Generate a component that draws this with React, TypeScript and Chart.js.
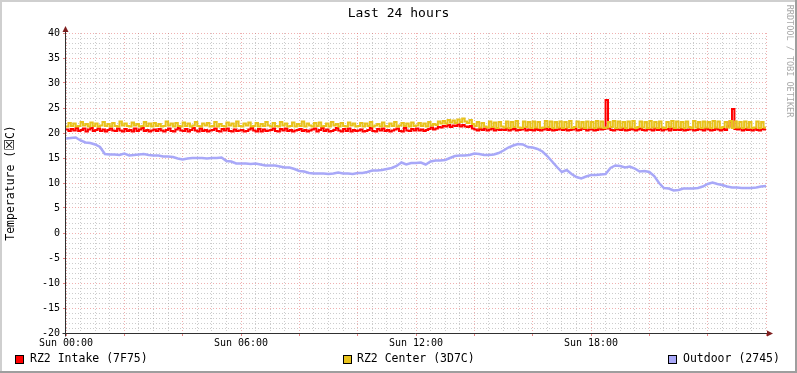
import React, { useEffect, useRef } from "react";
import { Chart, registerables } from "chart.js";

Chart.register(...registerables);

const TITLE = "Last 24 hours";
const Y_TITLE_PARTS = ["Temperature (", "☒", "C)"];
const WATERMARK = "RRDTOOL / TOBI OETIKER";
const X_TICK_LABELS = ["Sun 00:00", "Sun 06:00", "Sun 12:00", "Sun 18:00"];
const X_LABEL_EVERY_MIN = 360;
const X_MAJOR_EVERY_MIN = 120;
const X_MINOR_EVERY_MIN = 30;
const X_SPAN_MIN = 1440;
const Y_MIN = -20;
const Y_MAX = 40;
const Y_LABEL_EVERY = 5;
const SERIES_NAMES = ["RZ2 Intake (7F75)", "RZ2 Center (3D7C)", "Outdoor (2745)"];
const SERIES_COLORS = ["#FF0000", "#E8C21C", "#A8A8F8"];
const INTAKE_STEP_MIN = 5;
const CENTER_STEP_MIN = 5;
const OUTDOOR_STEP_MIN = 10;

// RZ2 Intake, one value every 5 minutes (12 per hour)
const INTAKE = [
  20.7, 20.4, 20.8, 20.5, 21.0, 20.4, 20.6, 20.9, 20.3, 20.7, 21.0, 20.4,
  20.6, 20.9, 20.4, 20.7, 20.3, 20.6, 20.9, 20.5, 20.4, 20.9, 20.5, 20.3,
  20.8, 20.4, 20.6, 20.3, 20.9, 20.4, 20.7, 21.0, 20.4, 20.6, 20.3, 20.5,
  20.7, 20.4, 20.8, 20.5, 20.3, 20.6, 20.9, 20.4, 20.3, 20.7, 21.0, 20.5,
  20.4, 20.8, 20.3, 20.6, 21.0, 20.5, 20.3, 20.9, 20.4, 20.6, 20.3, 20.5,
  20.6, 20.9, 20.4, 20.3, 20.8, 20.5, 20.9, 20.4, 20.3, 20.7, 20.4, 20.5,
  20.6, 20.3, 20.4, 20.7, 21.0, 20.5, 20.3, 20.8, 20.3, 20.7, 20.4, 20.5,
  20.6, 20.9, 20.4, 20.3, 20.8, 20.5, 20.9, 20.4, 20.6, 20.3, 20.5, 20.6,
  20.8, 20.4, 20.6, 20.3, 20.5, 20.7, 20.9, 20.3, 20.6, 21.0, 20.4, 20.7,
  20.3, 20.4, 20.6, 21.0, 20.5, 20.3, 20.8, 20.4, 20.9, 20.3, 20.6, 20.4,
  20.5, 20.7, 20.3, 20.4, 20.6, 21.0, 20.4, 20.3, 20.8, 20.5, 20.9, 20.4,
  20.6, 20.3, 20.5, 20.7, 20.9, 20.4, 20.3, 21.0, 20.5, 20.4, 20.8, 20.5,
  20.9, 20.5, 20.7, 20.4, 20.6, 20.8, 21.1, 20.7, 20.9, 21.2, 21.1, 21.4,
  21.3, 21.6, 21.2, 21.5, 21.4, 21.7, 21.3, 21.6, 21.3, 21.2, 21.4, 20.9,
  20.7, 20.5, 20.8, 20.6, 20.9, 20.5, 20.7, 20.9, 20.5, 20.8, 20.6, 20.7,
  20.6, 20.9, 20.5, 20.7, 20.8, 20.5, 20.6, 20.7, 20.9, 20.5, 20.7, 20.6,
  20.5, 20.8, 20.6, 20.5, 20.7, 20.9, 20.6, 20.8, 20.5, 20.6, 20.7, 20.9,
  20.6, 20.8, 20.5, 20.6, 20.7, 20.9, 20.5, 20.6, 20.9, 20.8, 20.5, 20.7,
  20.7, 20.5, 20.6, 20.9, 20.7, 20.8, 26.6, 20.9, 20.6, 20.5, 20.8, 20.7,
  20.6, 20.9, 20.5, 20.6, 20.8, 20.7, 20.5, 20.7, 20.9, 20.6, 20.5, 20.8,
  20.7, 20.5, 20.9, 20.6, 20.8, 20.5, 20.7, 20.8, 20.5, 20.9, 20.6, 20.7,
  20.6, 20.8, 20.5, 20.6, 20.7, 20.9, 20.5, 20.6, 20.8, 20.7, 20.5, 20.9,
  20.7, 20.5, 20.6, 20.9, 20.7, 20.5, 20.8, 20.6, 21.3, 22.3, 24.8, 20.8,
  20.7, 20.9, 20.5, 20.8, 20.6, 20.7, 20.5, 20.9, 20.6, 20.5, 20.8, 20.7,
  20.8,
];

// RZ2 Center, one value every 5 minutes (12 per hour)
const CENTER = [
  21.3, 22.0, 21.4, 21.9, 21.3, 21.4, 22.2, 21.5, 21.8, 21.3, 22.1, 21.4,
  21.9, 21.3, 21.5, 22.2, 21.4, 21.8, 21.3, 22.0, 21.4, 21.3, 22.3, 21.5,
  21.9, 21.4, 21.3, 22.1, 21.5, 21.8, 21.3, 21.4, 22.2, 21.4, 21.9, 21.3,
  22.0, 21.4, 21.8, 21.3, 21.4, 22.3, 21.5, 21.9, 21.3, 22.0, 21.4, 21.3,
  22.1, 21.4, 21.9, 21.3, 21.5, 22.2, 21.4, 21.3, 21.9, 21.5, 22.0, 21.3,
  21.4, 22.2, 21.3, 21.8, 21.4, 21.3, 22.1, 21.5, 21.9, 21.3, 22.3, 21.4,
  21.3, 21.9, 21.5, 22.1, 21.3, 21.4, 22.0, 21.3, 21.8, 21.4, 22.2, 21.5,
  21.3, 22.0, 21.4, 21.3, 22.2, 21.5, 21.9, 21.3, 21.4, 22.1, 21.3, 21.8,
  21.4, 22.3, 21.3, 21.9, 21.5, 21.3, 22.0, 21.4, 22.1, 21.3, 21.4, 21.9,
  21.3, 22.2, 21.5, 21.8, 21.3, 22.0, 21.4, 21.3, 22.1, 21.5, 21.9, 21.3,
  21.4, 22.0, 21.3, 21.9, 21.4, 22.2, 21.3, 21.5, 21.8, 21.3, 22.1, 21.4,
  21.3, 21.9, 21.4, 22.2, 21.3, 21.5, 22.0, 21.4, 21.9, 21.3, 22.1, 21.4,
  21.5, 22.0, 21.4, 21.9, 21.3, 22.2, 21.5, 21.8, 21.6, 22.3, 21.9, 22.4,
  21.9, 22.6, 22.1, 22.5, 22.0, 22.7, 22.2, 22.9, 22.3, 22.0, 22.6, 21.8,
  21.4, 22.2, 21.1, 22.0, 21.3, 21.1, 22.3, 21.2, 22.1, 21.0, 22.2, 21.3,
  21.1, 22.3, 21.0, 22.2, 21.2, 22.4, 21.1, 21.0, 22.3, 21.2, 22.2, 21.0,
  22.3, 21.1, 22.2, 21.0, 21.1, 22.4, 21.2, 22.3, 21.0, 22.2, 21.1, 22.3,
  21.0, 22.2, 21.1, 22.4, 21.0, 21.2, 22.3, 21.1, 22.2, 21.0, 22.3, 21.1,
  22.2, 21.0, 22.4, 21.1, 22.3, 21.0, 21.1, 22.2, 21.2, 22.4, 21.0, 22.3,
  21.1, 22.2, 21.0, 22.3, 21.1, 22.4, 21.0, 21.2, 22.3, 21.1, 22.2, 21.0,
  22.4, 21.1, 22.2, 21.0, 22.3, 21.1, 21.0, 22.2, 21.2, 22.4, 21.0, 22.3,
  21.1, 22.2, 21.0, 22.3, 21.2, 21.0, 22.4, 21.1, 22.2, 21.0, 22.3, 21.1,
  22.2, 21.0, 22.4, 21.1, 22.3, 21.0, 21.2, 22.2, 21.1, 22.4, 21.0, 22.3,
  21.1, 22.2, 21.0, 22.3, 21.1, 22.2, 21.0, 21.1, 22.3, 21.0, 22.2, 21.1,
  21.2,
];

// Outdoor, one value every 10 minutes
const OUTDOOR = [
  18.9, 19.0, 19.1, 18.5, 18.1, 18.0, 17.7, 17.2, 15.8, 15.7,
  15.7, 15.6, 15.9, 15.5, 15.6, 15.7, 15.8, 15.6, 15.5, 15.5,
  15.3, 15.3, 15.2, 14.9, 14.7, 14.9, 15.0, 15.0, 15.0, 14.9,
  15.0, 15.0, 15.1, 14.4, 14.3, 13.9, 13.9, 13.9, 13.8, 13.9,
  13.7, 13.5, 13.5, 13.5, 13.3, 13.1, 13.1, 12.8, 12.4, 12.3,
  12.0, 11.9, 11.9, 11.9, 11.8, 11.9, 12.1, 11.9, 11.9, 11.8,
  12.0, 12.0, 12.2, 12.5, 12.5, 12.6, 12.8, 13.0, 13.4, 14.1,
  13.7, 14.0, 14.0, 14.1, 13.7, 14.3, 14.5, 14.5, 14.6, 15.0,
  15.4, 15.5, 15.5, 15.6, 15.9, 15.8, 15.6, 15.6, 15.7, 16.0,
  16.5, 17.1, 17.5, 17.8, 17.7, 17.2, 17.1, 16.8, 16.3, 15.4,
  14.3, 13.2, 12.2, 12.6, 11.8, 11.2, 10.9, 11.3, 11.6, 11.6,
  11.7, 11.8, 13.0, 13.5, 13.4, 13.1, 13.3, 12.9, 12.3, 12.4,
  12.2, 11.4, 10.0, 9.0, 8.9, 8.5, 8.6, 8.9, 8.9, 8.9,
  9.0, 9.3, 9.8, 10.1, 9.8, 9.6, 9.3, 9.1, 9.1, 9.0,
  9.0, 9.0, 9.1, 9.3, 9.4,
];

const FONT = "'DejaVu Sans Mono', 'DejaVu Sans', monospace";
const SYMBOL_FONT = "'DejaVu Sans', 'Noto Sans', sans-serif";
const W = 797;
const H = 373;

const MINOR_GRID = "rgba(143,143,143,0.45)";
const MAJOR_GRID = "rgba(222,79,79,0.45)";
const MAJOR_TICK = "rgba(222,79,79,0.7)";
const AXIS_COLOR = "#303030";
const ARROW_COLOR = "#7F1F1F";

function toPoints(values: number[], stepMin: number) {
  return values.map((y, i) => ({ x: i * stepMin, y }));
}

const decorPlugin = {
  id: "rrdDecor",
  beforeDraw(chart: any) {
    const ctx = chart.ctx as CanvasRenderingContext2D;
    ctx.save();
    ctx.fillStyle = "#FFFFFF";
    ctx.fillRect(0, 0, W, H);
    ctx.fillStyle = "#CFCFCF";
    ctx.fillRect(0, 0, W, 2);
    ctx.fillRect(0, 0, 2, H);
    ctx.fillStyle = "#9E9E9E";
    ctx.fillRect(W - 2, 0, 2, H);
    ctx.fillRect(0, H - 2, W, 2);
    ctx.restore();
  },
  afterDatasetsDraw(chart: any) {
    const ctx = chart.ctx as CanvasRenderingContext2D;
    const a = chart.chartArea;
    const x0 = Math.round(a.left) - 0.5;
    const yb = Math.round(a.bottom) + 0.5;
    ctx.save();
    ctx.strokeStyle = AXIS_COLOR;
    ctx.lineWidth = 1;
    ctx.beginPath();
    ctx.moveTo(x0 - 3, yb);
    ctx.lineTo(a.right + 2, yb);
    ctx.moveTo(x0, yb + 3);
    ctx.lineTo(x0, a.top - 2);
    ctx.stroke();
    ctx.fillStyle = ARROW_COLOR;
    ctx.beginPath();
    ctx.moveTo(a.right + 1, yb - 3);
    ctx.lineTo(a.right + 7, yb);
    ctx.lineTo(a.right + 1, yb + 3);
    ctx.closePath();
    ctx.fill();
    ctx.beginPath();
    ctx.moveTo(x0 - 3, a.top - 1);
    ctx.lineTo(x0, a.top - 7);
    ctx.lineTo(x0 + 3, a.top - 1);
    ctx.closePath();
    ctx.fill();
    ctx.restore();
  },
  afterDraw(chart: any) {
    const ctx = chart.ctx as CanvasRenderingContext2D;
    const a = chart.chartArea;
    ctx.save();
    ctx.fillStyle = "#000000";
    ctx.font = `13px ${FONT}`;
    ctx.textAlign = "center";
    ctx.textBaseline = "middle";
    ctx.fillText(TITLE, W / 2, 14);

    // rotated y-axis title, drawn in parts so the symbol can use another font
    ctx.save();
    ctx.translate(11, (a.top + a.bottom) / 2);
    ctx.rotate(-Math.PI / 2);
    ctx.textAlign = "left";
    const fonts = [`11.5px ${FONT}`, `13px ${SYMBOL_FONT}`, `11.5px ${FONT}`];
    const widths = Y_TITLE_PARTS.map((p, i) => {
      ctx.font = fonts[i];
      return ctx.measureText(p).width;
    });
    const total = widths.reduce((s, w) => s + w, 0);
    let cx = -total / 2;
    Y_TITLE_PARTS.forEach((p, i) => {
      ctx.font = fonts[i];
      ctx.fillText(p, cx, 0);
      cx += widths[i];
    });
    ctx.restore();

    ctx.save();
    ctx.translate(789, 61);
    ctx.rotate(Math.PI / 2);
    ctx.font = `8.5px ${FONT}`;
    ctx.fillStyle = "#A8A8A8";
    ctx.textAlign = "center";
    ctx.fillText(WATERMARK, 0, 0);
    ctx.restore();

    const items = [
      { sx: 15, tx: 30 },
      { sx: 343, tx: 357 },
      { sx: 668, tx: 683 },
    ];
    ctx.font = `11.5px ${FONT}`;
    ctx.textAlign = "left";
    ctx.textBaseline = "middle";
    items.forEach((it, i) => {
      ctx.fillStyle = SERIES_COLORS[i];
      ctx.fillRect(it.sx, 355, 8, 8);
      ctx.strokeStyle = "#000000";
      ctx.lineWidth = 1;
      ctx.strokeRect(it.sx + 0.5, 355.5, 8, 8);
      ctx.fillStyle = "#000000";
      ctx.fillText(SERIES_NAMES[i], it.tx, 359.5);
    });
    ctx.restore();
  },
};

export default function App() {
  const canvasRef = useRef<HTMLCanvasElement | null>(null);

  useEffect(() => {
    const canvas = canvasRef.current;
    if (!canvas) return;
    const chart = new Chart(canvas, {
      type: "line",
      data: {
        datasets: [
          {
            label: SERIES_NAMES[0],
            data: toPoints(INTAKE, INTAKE_STEP_MIN),
            borderColor: SERIES_COLORS[0],
            backgroundColor: SERIES_COLORS[0],
            borderWidth: 2,
            pointRadius: 0,
            stepped: true,
            order: 3,
          },
          {
            label: SERIES_NAMES[1],
            data: toPoints(CENTER, CENTER_STEP_MIN),
            borderColor: SERIES_COLORS[1],
            backgroundColor: SERIES_COLORS[1],
            borderWidth: 2,
            pointRadius: 0,
            stepped: true,
            order: 2,
          },
          {
            label: SERIES_NAMES[2],
            data: toPoints(OUTDOOR, OUTDOOR_STEP_MIN),
            borderColor: SERIES_COLORS[2],
            backgroundColor: SERIES_COLORS[2],
            borderWidth: 2.5,
            pointRadius: 0,
            tension: 0,
            order: 1,
          },
        ],
      },
      options: {
        animation: false,
        responsive: false,
        maintainAspectRatio: false,
        events: [],
        layout: { padding: { left: 0, top: 33, right: 31, bottom: 0 } },
        plugins: {
          legend: { display: false },
          title: { display: false },
          tooltip: { enabled: false },
        },
        scales: {
          x: {
            type: "linear",
            min: 0,
            max: X_SPAN_MIN,
            afterFit: (s: any) => {
              s.height = 40;
            },
            ticks: {
              stepSize: X_MINOR_EVERY_MIN,
              autoSkip: false,
              maxTicksLimit: 1000,
              maxRotation: 0,
              minRotation: 0,
              padding: 1,
              color: "#000000",
              font: { family: FONT, size: 10 },
              callback: (v: any) => {
                const n = Number(v);
                if (n % X_LABEL_EVERY_MIN !== 0) return "";
                return X_TICK_LABELS[n / X_LABEL_EVERY_MIN] ?? "";
              },
            },
            grid: {
              color: (c: any) =>
                c.tick && c.tick.value % X_MAJOR_EVERY_MIN === 0 ? MAJOR_GRID : MINOR_GRID,
              lineWidth: 1,
              drawTicks: true,
              tickLength: 3,
              tickColor: (c: any) =>
                c.tick && c.tick.value % X_MAJOR_EVERY_MIN === 0 ? MAJOR_TICK : "rgba(0,0,0,0)",
            },
            border: { display: false, dash: [1, 2] },
          },
          y: {
            type: "linear",
            min: Y_MIN,
            max: Y_MAX,
            afterFit: (s: any) => {
              s.width = 66;
            },
            ticks: {
              stepSize: 1,
              autoSkip: false,
              maxTicksLimit: 1000,
              padding: 3,
              color: "#000000",
              font: { family: FONT, size: 10 },
              callback: (v: any) => {
                const n = Number(v);
                return n % Y_LABEL_EVERY === 0 ? String(n) : "";
              },
            },
            grid: {
              color: (c: any) =>
                c.tick && c.tick.value % Y_LABEL_EVERY === 0 ? MAJOR_GRID : MINOR_GRID,
              lineWidth: 1,
              drawTicks: true,
              tickLength: 3,
              tickColor: (c: any) =>
                c.tick && c.tick.value % Y_LABEL_EVERY === 0 ? MAJOR_TICK : "rgba(0,0,0,0)",
            },
            border: { display: false, dash: [1, 2] },
          },
        },
      },
      plugins: [decorPlugin],
    } as any);
    return () => chart.destroy();
  }, []);

  return (
    <div style={{ position: "fixed", left: 0, top: 0, width: W, height: H, background: "#fff" }}>
      <canvas ref={canvasRef} width={W} height={H} style={{ width: W, height: H, display: "block" }} />
    </div>
  );
}
